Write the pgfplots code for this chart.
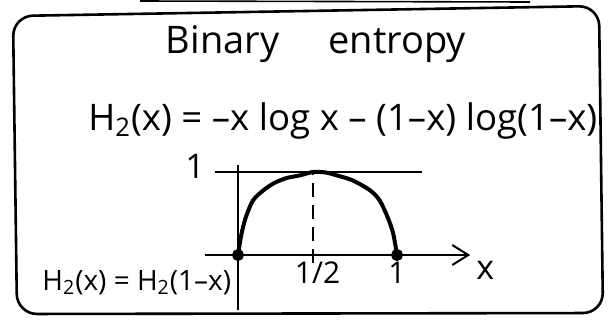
\documentclass[border=0pt]{standalone}
\usepackage{pgfplots}
\pgfplotsset{compat=1.18}
\usepackage{fontspec}
\setmainfont{Open Sans}
\usetikzlibrary{arrows.meta}

\begin{document}
\begin{tikzpicture}[x=0.5pt,y=0.5pt]
\useasboundingbox (0,0) rectangle (612,328);

% frame around the note
\draw[line width=1.3pt, rounded corners=10pt]
  (13,312) -- (599,322) -- (603,15) -- (17,14) -- cycle;
\draw[line width=0.8pt] (140,327) -- (530,326);

% heading and definition
\node[anchor=base, inner sep=0pt, font=\fontsize{19}{21}\selectfont]
  at (316,275) {Binary\hspace{1.3em}entropy};
\node[anchor=base west, inner sep=0pt, font=\fontsize{18.3}{21}\selectfont]
  at (88,198) {H\textsubscript{2}(x) = –x log x – (1–x) log(1–x)};
\node[anchor=base west, inner sep=0pt, font=\fontsize{14}{16}\selectfont]
  at (42,38) {H\textsubscript{2}(x) = H\textsubscript{2}(1–x)};

\begin{axis}[
  at={(102.3pt,9.1pt)}, anchor=south west,
  scale only axis,
  width=132.8pt, height=72.2pt,
  xmin=-0.21, xmax=1.46,
  ymin=-0.66, ymax=1.08,
  axis x line=middle, axis y line=middle,
  axis line style={line width=1pt},
  x axis line style={-{Straight Barb[length=8pt,width=10pt,line width=1pt]}},
  y axis line style={-},
  major tick length=0pt,
  xtick={0.5,1}, xticklabels={1/2,1},
  ytick={1}, yticklabels={1},
  xticklabel style={font=\fontsize{15}{16}\selectfont},
  yticklabel style={font=\fontsize{17}{18}\selectfont, anchor=east, xshift=-13pt, yshift=3pt},
  xlabel={x},
  every axis x label/.style={at={(axis cs:1.555,-0.19)}, anchor=center, font=\fontsize{17}{18}\selectfont},
  clip=false,
]
  % level of the maximum
  \addplot[line width=1.1pt] coordinates {(-0.145,1) (1.16,1)};
  % midpoint marker
  \addplot[line width=1.1pt, dash pattern=on 7pt off 4pt] coordinates {(0.47,-0.1) (0.47,1)};
  % H_2(x)
  \addplot[line width=2pt, smooth, tension=0.5] coordinates {
    (0,0) (0.008,0.1) (0.023,0.265) (0.05,0.46) (0.095,0.66) (0.16,0.78)
    (0.23,0.87) (0.31,0.93) (0.39,0.96) (0.47,1.0) (0.55,0.995) (0.62,0.96)
    (0.72,0.9) (0.83,0.78) (0.89,0.66) (0.94,0.46) (0.975,0.265) (1,0)
  };
  % end points
  \addplot[only marks, mark=*, mark size=2.8pt] coordinates {(0,0) (1,0)};
\end{axis}
\end{tikzpicture}
\end{document}
